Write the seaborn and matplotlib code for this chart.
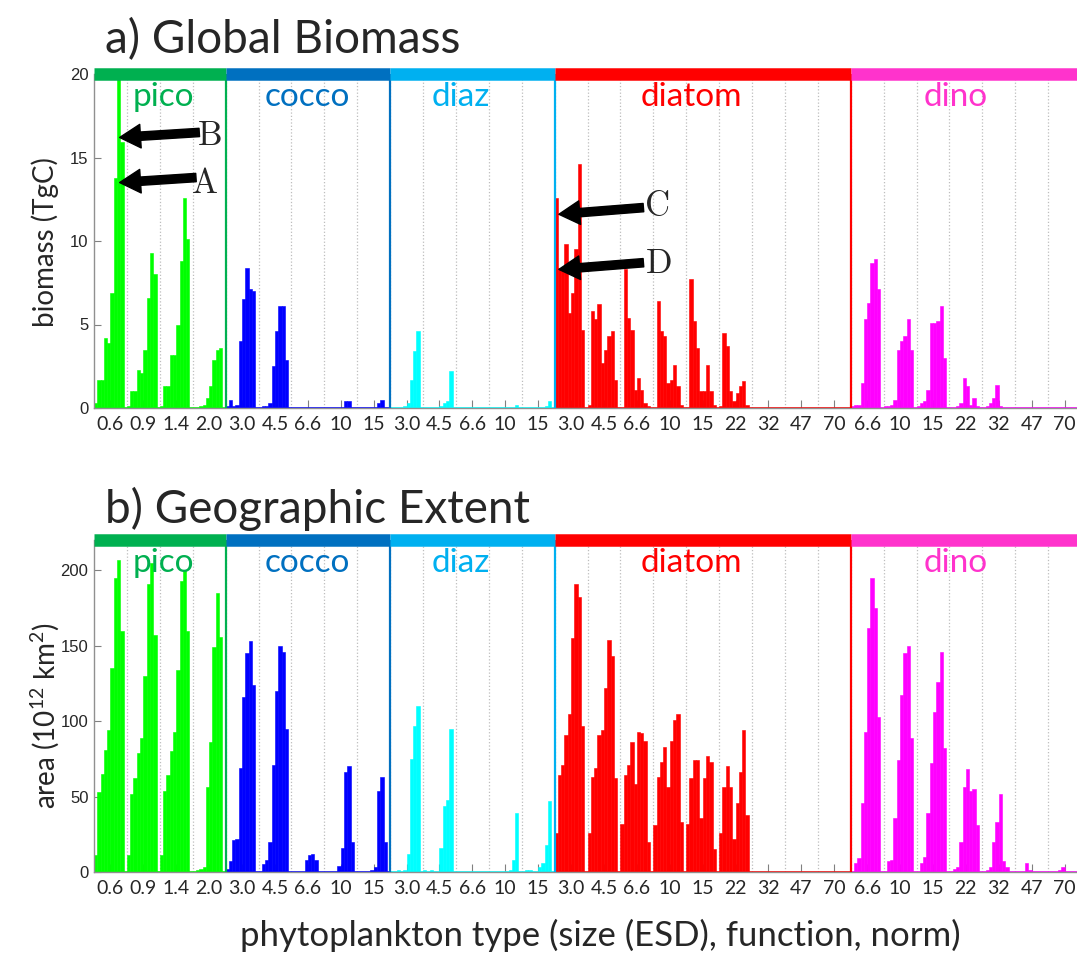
import numpy as np
import pandas as pd
import matplotlib
matplotlib.use("Agg")
import matplotlib.pyplot as plt
import seaborn as sns

# size classes (ESD) of each functional group
pico_sizes = ["0.6", "0.9", "1.4", "2.0"]
cocco_sizes = ["3.0", "4.5", "6.6", "10", "15"]
diaz_sizes = ["3.0", "4.5", "6.6", "10", "15"]
diatom_sizes = ["3.0", "4.5", "6.6", "10", "15", "22", "32", "47", "70"]
dino_sizes = ["6.6", "10", "15", "22", "32", "47", "70"]

# a) global biomass (TgC), 10 types per size class
pico_biomass = [
    [0.3, 1.7, 1.7, 4.2, 3.9, 6.9, 13.8, 21.0, 15.9, 0],
    [0.1, 1.0, 1.0, 2.3, 2.1, 3.5, 6.6, 9.3, 8.0, 0],
    [0.1, 1.3, 1.3, 3.2, 3.2, 5.0, 8.8, 12.6, 10.1, 0],
    [0, 0, 0.1, 0.2, 0.6, 1.3, 2.9, 3.5, 3.6, 0],
]
cocco_biomass = [
    [0.1, 0.5, 0.1, 0.2, 4.0, 6.5, 8.4, 7.1, 7.0, 0],
    [0, 0.1, 0.1, 0.3, 2.5, 4.6, 6.1, 6.1, 2.9, 0],
    [0, 0, 0, 0, 0, 0, 0, 0, 0, 0],
    [0, 0, 0, 0, 0, 0, 0.4, 0.4, 0, 0],
    [0, 0, 0, 0, 0, 0, 0.3, 0.5, 0, 0],
]
diaz_biomass = [
    [0, 0, 0, 0, 0.1, 0.3, 1.7, 3.4, 4.6, 0],
    [0, 0, 0, 0, 0, 0.1, 0.3, 0.4, 2.2, 0],
    [0, 0, 0, 0, 0, 0, 0, 0, 0, 0],
    [0, 0, 0, 0, 0, 0, 0, 0, 0.2, 0],
    [0, 0, 0, 0, 0, 0, 0, 0.1, 0.4, 0],
]
diatom_biomass = [
    [12.6, 8.4, 8.4, 9.8, 5.7, 6.9, 9.5, 14.6, 4.7, 0],
    [0.2, 5.8, 5.3, 6.2, 2.7, 3.5, 4.3, 4.6, 1.7, 0],
    [0, 8.3, 5.4, 4.7, 1.1, 1.8, 1.1, 0.3, 0.1, 0],
    [0, 6.4, 4.6, 4.3, 1.5, 1.7, 2.6, 1.3, 0.2, 0],
    [0, 7.7, 5.2, 3.6, 1.0, 1.0, 2.6, 1.0, 0.2, 0],
    [0.1, 4.5, 3.7, 1.0, 0.4, 0.9, 1.3, 1.6, 0.2, 0],
    [0, 0, 0, 0, 0, 0, 0, 0, 0, 0],
    [0, 0, 0, 0, 0, 0, 0, 0, 0, 0],
    [0, 0, 0, 0, 0, 0, 0, 0, 0, 0],
]
dino_biomass = [
    [0.1, 0.2, 0.2, 1.5, 5.3, 6.3, 8.7, 8.9, 7.1, 0],
    [0.1, 0.1, 0.2, 0.5, 3.5, 4.0, 4.3, 5.3, 3.5, 0],
    [0.1, 0.3, 0.4, 1.1, 5.1, 5.1, 5.2, 6.1, 3.0, 0],
    [0, 0, 0.1, 0.3, 1.8, 1.3, 0.2, 0.6, 0.1, 0],
    [0, 0.1, 0.3, 0.6, 1.4, 0.1, 0, 0, 0, 0],
    [0, 0, 0, 0, 0, 0, 0, 0, 0, 0],
    [0, 0, 0, 0, 0, 0, 0, 0, 0, 0],
]

# b) geographic extent (10^12 km^2)
pico_area = [
    [11, 53, 65, 81, 94, 135, 195, 207, 160, 0],
    [11, 52, 62, 79, 89, 130, 191, 205, 157, 0],
    [11, 54, 64, 80, 93, 134, 193, 200, 160, 0],
    [0, 1, 2, 3, 56, 86, 149, 185, 156, 0],
]
cocco_area = [
    [2, 7, 21, 22, 69, 116, 145, 153, 124, 0],
    [0, 5, 8, 20, 71, 120, 150, 146, 95, 0],
    [0, 0, 0, 0, 8, 11, 12, 8, 0, 0],
    [0, 0, 0, 0, 4, 16, 66, 70, 20, 0],
    [0, 0, 0, 0, 1, 3, 54, 63, 20, 0],
]
diaz_area = [
    [0, 0, 1, 0, 1, 12, 75, 97, 110, 0],
    [1, 0, 1, 0, 0, 16, 44, 48, 95, 0],
    [0, 0, 0, 0, 0, 0, 0, 0, 0, 0],
    [0, 0, 0, 0, 0, 0, 1, 8, 39, 0],
    [0, 1, 1, 0, 0, 3, 6, 18, 47, 0],
]
diatom_area = [
    [26, 64, 71, 91, 105, 155, 191, 182, 97, 0],
    [26, 63, 69, 91, 94, 122, 154, 143, 62, 0],
    [32, 64, 71, 86, 58, 93, 92, 87, 20, 0],
    [31, 63, 73, 83, 56, 87, 101, 105, 33, 0],
    [32, 62, 74, 74, 36, 62, 77, 73, 15, 0],
    [26, 56, 70, 56, 22, 46, 66, 94, 38, 0],
    [0, 0, 0, 0, 0, 0, 0, 0, 0, 0],
    [0, 0, 0, 0, 0, 0, 0, 0, 0, 0],
    [0, 0, 0, 0, 0, 0, 0, 0, 0, 0],
]
dino_area = [
    [0, 6, 9, 46, 93, 162, 195, 175, 103, 0],
    [0, 7, 8, 36, 74, 117, 145, 150, 89, 0],
    [0, 6, 10, 39, 72, 106, 126, 146, 82, 0],
    [0, 2, 3, 20, 56, 68, 54, 55, 31, 0],
    [0, 1, 3, 20, 33, 52, 7, 3, 0, 0],
    [0, 0, 0, 6, 1, 0, 0, 0, 0, 0],
    [0, 0, 0, 1, 3, 0, 0, 0, 0, 0],
]

groups = ["pico", "cocco", "diaz", "diatom", "dino"]
group_sizes = [pico_sizes, cocco_sizes, diaz_sizes, diatom_sizes, dino_sizes]
biomass = [pico_biomass, cocco_biomass, diaz_biomass, diatom_biomass, dino_biomass]
area = [pico_area, cocco_area, diaz_area, diatom_area, dino_area]

bar_colors = {"pico": "#00ff00", "cocco": "#0000ff", "diaz": "#00ffff",
              "diatom": "#ff0000", "dino": "#ff00ff"}
line_colors = {"pico": "#00b050", "cocco": "#0070c0", "diaz": "#00b0f0",
               "diatom": "#ff0000", "dino": "#ff33cc"}
# offset of the group name from the group centre, in bar units
label_shift = {"pico": 1.0, "cocco": -0.3, "diaz": -3.5, "diatom": -3.4, "dino": -3.0}

NTYPE = 10

sns.set_style("white")
plt.rcParams["font.family"] = ["Lato", "DejaVu Sans"]
plt.rcParams["mathtext.fontset"] = "custom"
plt.rcParams["mathtext.rm"] = "Lato"
plt.rcParams["mathtext.it"] = "Lato:italic"


def make_frame(values):
    rows = []
    pos = 0
    for g, blocks in zip(groups, values):
        for block in blocks:
            for v in block:
                rows.append((pos, v, g))
                pos += 1
    return pd.DataFrame(rows, columns=["pos", "value", "group"])


def draw_panel(ax, values, ymax, yticks):
    df = make_frame(values)
    sns.barplot(data=df, x="pos", y="value", hue="group", palette=bar_colors,
                native_scale=True, width=1.0, dodge=False, errorbar=None,
                saturation=1, legend=False, linewidth=0, ax=ax)
    for p in ax.patches:
        p.set_edgecolor(p.get_facecolor())
        p.set_linewidth(0.4)

    n = len(df)
    ax.set_xlim(-0.5, n - 0.5)
    ax.set_ylim(0, ymax)
    ax.set_xlabel("")
    ax.set_ylabel("")

    # class ticks and labels
    labels = [s for sz in group_sizes for s in sz]
    nclass = len(labels)
    ax.set_xticks(np.arange(nclass) * NTYPE + (NTYPE - 1) / 2)
    ax.set_xticklabels(labels, fontsize=14)
    ax.set_xticks(np.arange(1, nclass) * NTYPE - 0.5, minor=True)
    ax.grid(which="minor", axis="x", linestyle=":", color="#bdbdbd", lw=0.9)
    ax.grid(which="major", visible=False)
    ax.tick_params(axis="x", which="major", direction="in", length=6, color="#808080",
                   pad=6, bottom=True)
    ax.tick_params(axis="x", which="minor", length=0)
    ax.set_yticks(yticks)
    ax.tick_params(axis="y", direction="in", length=5, color="#808080", pad=4,
                   labelsize=12, left=True)
    for lbl in ax.get_yticklabels():
        lbl.set_fontfamily("Liberation Sans")

    for side in ["top", "right"]:
        ax.spines[side].set_visible(False)
    for side in ["left", "bottom"]:
        ax.spines[side].set_color("#909090")
        ax.spines[side].set_linewidth(1.0)

    # group strips, boundaries and names
    start = 0
    for g, sz in zip(groups, group_sizes):
        lo = start - 0.5
        hi = start + len(sz) * NTYPE - 0.5
        ax.plot([lo, hi], [0, 0], color=bar_colors[g], lw=1.2, zorder=1)
        ax.plot([lo, hi], [ymax, ymax], color=line_colors[g], lw=9,
                solid_capstyle="butt", clip_on=False, zorder=5)
        if g != "dino":
            ax.plot([hi, hi], [0, ymax], color=line_colors[g], lw=1.6, zorder=4)
        mid = (lo + hi) / 2 + label_shift[g]
        ax.text(mid, ymax * 0.93, g, color=line_colors[g], fontsize=24,
                ha="center", va="center", zorder=6)
        start += len(sz) * NTYPE


fig = plt.figure(figsize=(10.77, 9.56), dpi=100)
W, H = 1077, 956
ax_a = fig.add_axes([94 / W, 1 - 408 / H, 987 / W, 334 / H])
ax_b = fig.add_axes([94 / W, 1 - 872 / H, 987 / W, 332 / H])

draw_panel(ax_a, biomass, 20, [0, 5, 10, 15, 20])
draw_panel(ax_b, area, 220, [0, 50, 100, 150, 200])

# arrows marking types A-D
arrow_kw = dict(facecolor="black", edgecolor="black", width=6, headwidth=17,
                headlength=15, shrink=0)
marks = [
    ("A", (7.3, 13.5), (30.5, 13.8), (33.3, 13.4)),
    ("B", (7.3, 16.2), (31.5, 16.5), (34.8, 16.3)),
    ("C", (140.8, 11.6), (166.5, 12.0), (170.8, 12.0)),
    ("D", (140.8, 8.3), (166.5, 8.7), (171.2, 8.6)),
]
for letter, tip, tail, pos in marks:
    ax_a.annotate("", xy=tip, xytext=tail, arrowprops=arrow_kw, zorder=7)
    ax_a.text(pos[0], pos[1], letter, fontfamily="cmr10", fontsize=25,
              ha="center", va="center", zorder=7)

fig.text(105 / W, 1 - 40 / H, "a) Global Biomass", fontsize=33, ha="left", va="center")
fig.text(105 / W, 1 - 509 / H, "b) Geographic Extent", fontsize=33, ha="left", va="center")
fig.text(45 / W, 1 - 242 / H, "biomass (TgC)", fontsize=20, rotation=90,
         ha="center", va="center")
fig.text(45 / W, 1 - 715 / H, "area (10$^{12}$ km$^2$)", fontsize=20, rotation=90,
         ha="center", va="center")
fig.text(600 / W, 1 - 935 / H, "phytoplankton type (size (ESD), function, norm)",
         fontsize=25, ha="center", va="center")

fig.savefig("out.png", dpi=100)
